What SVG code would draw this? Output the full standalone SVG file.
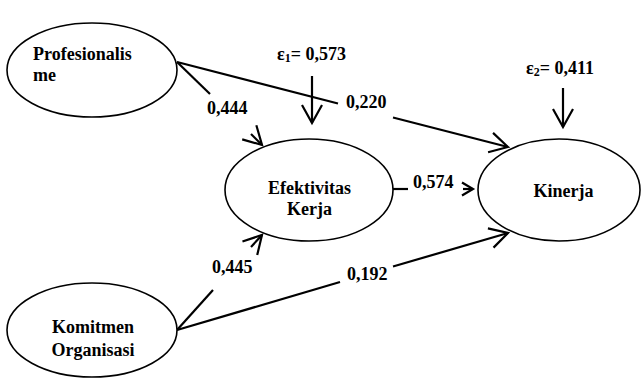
<svg xmlns="http://www.w3.org/2000/svg" width="641" height="378" viewBox="0 0 641 378">
<style>
.node{fill:#fff;stroke:#000;stroke-width:1.6}
.t{font-family:"Liberation Serif","Times New Roman",serif;font-weight:bold;font-size:18px;fill:#000}
.c{text-anchor:middle}
.ln{stroke:#000;stroke-width:2.2;fill:none}
</style>
<defs>
<marker id="ah" markerUnits="userSpaceOnUse" markerWidth="26" markerHeight="26" viewBox="-22 -13 26 26" refX="0" refY="0" orient="auto">
<path d="M-18,-10 L0,0 L-18,10" fill="none" stroke="#000" stroke-width="2.2"/>
</marker>
<marker id="ahs" markerUnits="userSpaceOnUse" markerWidth="18" markerHeight="18" viewBox="-14 -9 18 18" refX="0" refY="0" orient="auto">
<path d="M-11,-6.5 L0,0 L-11,6.5" fill="none" stroke="#000" stroke-width="2.2"/>
</marker>
</defs>
<rect width="641" height="378" fill="#fff"/>
<g id="connectors">
<path class="ln" d="M177,62 L338,103.5"/>
<path class="ln" d="M393,117.5 L508,147" marker-end="url(#ah)"/>
<path class="ln" d="M177,62 L210,94"/>
<path class="ln" d="M251,134 L262,145" marker-end="url(#ah)"/>
<path class="ln" d="M177,330 L213,290"/>
<path class="ln" d="M251,247 L262,235" marker-end="url(#ah)"/>
<path class="ln" d="M177,330 L340,282"/>
<path class="ln" d="M393,266.5 L508,233" marker-end="url(#ah)"/>
<path class="ln" d="M393,189 L408,189"/>
<path class="ln" d="M463,189 L473,189" marker-end="url(#ahs)"/>
<path class="ln" d="M312,76 L312,123" marker-end="url(#ah)"/>
<path class="ln" d="M563,88 L563,127" marker-end="url(#ah)"/>
<text class="t" x="207" y="114">0,444</text>
<text class="t" x="346" y="108">0,220</text>
<text class="t" x="413" y="188">0,574</text>
<text class="t" x="212" y="273">0,445</text>
<text class="t" x="347" y="280">0,192</text>
<text class="t" x="277" y="60">ε<tspan font-size="12" dy="2">1</tspan><tspan dy="-2">= 0,573</tspan></text>
<text class="t" x="526" y="74">ε<tspan font-size="12" dy="2">2</tspan><tspan dy="-2">= 0,411</tspan></text>
</g>
<g id="profesionalisme">
<ellipse class="node" cx="92" cy="70" rx="85" ry="47"/>
<text class="t" x="33" y="60">Profesionalis</text>
<text class="t" x="33" y="81">me</text>
</g>
<g id="efektivitas">
<ellipse class="node" cx="309" cy="190" rx="84" ry="51"/>
<text class="t c" x="309.5" y="194">Efektivitas</text>
<text class="t c" x="309.5" y="215">Kerja</text>
</g>
<g id="kinerja">
<ellipse class="node" cx="559" cy="190" rx="81" ry="51"/>
<text class="t c" x="563.5" y="197">Kinerja</text>
</g>
<g id="komitmen">
<ellipse class="node" cx="92" cy="330" rx="85" ry="47"/>
<text class="t c" x="93" y="333">Komitmen</text>
<text class="t c" x="93" y="356">Organisasi</text>
</g>
</svg>
